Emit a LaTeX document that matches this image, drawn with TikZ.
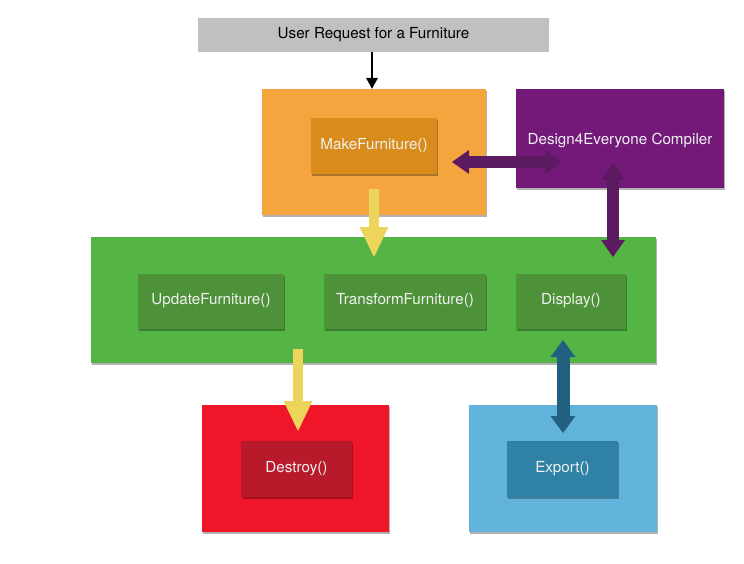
\documentclass[tikz,border=0pt]{standalone}
\usepackage{fontspec}
\setmainfont{TeX Gyre Heros}
\usetikzlibrary{arrows.meta,shadows}
\definecolor{cgray}{HTML}{C0C0C0}
\definecolor{corange}{HTML}{F5A53D}
\definecolor{cmake}{HTML}{D98B1C}
\definecolor{cpurple}{HTML}{73197A}
\definecolor{cpurplearrow}{HTML}{5C1A60}
\definecolor{cgreen}{HTML}{54B544}
\definecolor{cgreenin}{HTML}{4D9238}
\definecolor{cred}{HTML}{F0162A}
\definecolor{credin}{HTML}{B81A2C}
\definecolor{cblue}{HTML}{62B3DC}
\definecolor{cbluein}{HTML}{2F82A6}
\definecolor{cbluearrow}{HTML}{21617F}
\definecolor{cyellow}{HTML}{EDD55C}
\tikzset{
  panel/.style={rectangle,inner sep=0pt,anchor=center,
    drop shadow={shadow xshift=1pt,shadow yshift=-2pt,opacity=.3,fill=black}},
  inbox/.style={panel,text=white!94!black,font=\fontsize{15.2}{18}\selectfont,minimum height=55pt},
  txt/.style={font=\fontsize{15.2}{18}\selectfont},
  yarrow/.style={cyellow,line width=10pt,-{Triangle[width=29pt,length=30pt,line width=0pt]}},
  parrow/.style={cpurplearrow,line width=12pt,{Triangle[width=24pt,length=17pt,line width=0pt]}-{Triangle[width=24pt,length=17pt,line width=0pt]}},
  barrow/.style={cbluearrow,line width=13pt,{Triangle[width=25pt,length=17pt,line width=0pt]}-{Triangle[width=25pt,length=17pt,line width=0pt]}},
}
\begin{document}
\begin{tikzpicture}[x=1pt,y=-1pt]
\useasboundingbox (0,0) rectangle (744,564);
% top request
\node[rectangle,inner sep=0pt,fill=cgray,minimum width=351pt,minimum height=34pt,txt] (req) at (373.5,35) {User Request for a Furniture};
% orange
\node[panel,fill=corange,minimum width=224pt,minimum height=126pt] (orange) at (374,152) {};
\node[inbox,fill=cmake,minimum width=126pt,minimum height=56pt] (make) at (374,146) {MakeFurniture()};
% purple
\node[panel,fill=cpurple,minimum width=208pt,minimum height=99pt] (purple) at (620,138.5) {};
\node[txt,text=white!94!black] (comp) at (620,140) {Design4Everyone Compiler};
% green
\node[panel,fill=cgreen,minimum width=565pt,minimum height=126pt] (green) at (373.5,300) {};
\node[inbox,fill=cgreenin,minimum width=146pt] (update) at (211,301) {UpdateFurniture()};
\node[inbox,fill=cgreenin,minimum width=162pt] (transform) at (405,301) {TransformFurniture()};
\node[inbox,fill=cgreenin,minimum width=110pt] (display) at (571,301) {Display()};
% red
\node[panel,fill=cred,minimum width=187pt,minimum height=127pt] (red) at (295.5,468.5) {};
\node[inbox,fill=credin,minimum width=111pt,minimum height=56pt] (destroy) at (296.5,469) {Destroy()};
% blue
\node[panel,fill=cblue,minimum width=188pt,minimum height=127pt] (blue) at (563,468.5) {};
\node[inbox,fill=cbluein,minimum width=111pt,minimum height=56pt] (export) at (562.5,469) {Export()};
% arrow end points
\coordinate (y1s) at (374,189);
\coordinate (y1e) at (374,257);
\coordinate (y2s) at (298,349);
\coordinate (y2e) at (298,431);
\coordinate (phs) at (452,162);
\coordinate (phe) at (562,162);
\coordinate (pvs) at (613,163);
\coordinate (pve) at (613,257);
\coordinate (bs) at (563,340);
\coordinate (be) at (563,433);
% connectors
\draw[black,line width=2.6pt,-{Triangle[width=12pt,length=11pt,line width=0pt]}] (req.south -| 372,0) -- (orange.north -| 372,0);
\draw[yarrow] (y1s) -- (y1e);
\draw[yarrow] (y2s) -- (y2e);
\draw[parrow] (phs) -- (phe);
\draw[parrow] (pvs) -- (pve);
\draw[barrow] (bs) -- (be);
\end{tikzpicture}
\end{document}
